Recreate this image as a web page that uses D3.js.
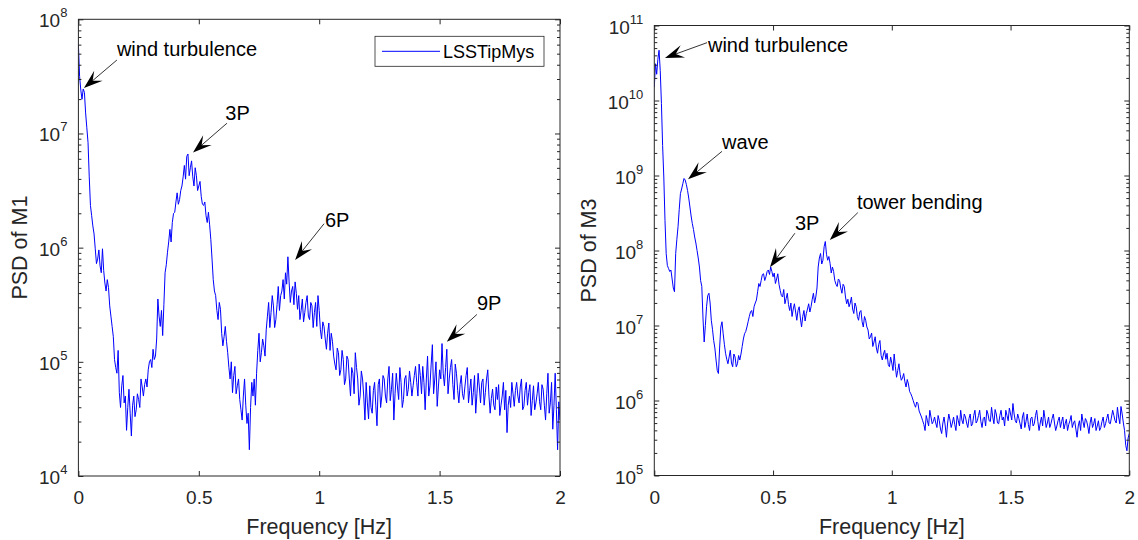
<!DOCTYPE html>
<html lang="en">
<head>
<meta charset="UTF-8">
<title>PSD of M1 and M3</title>
<style>
    body, html {
        margin: 0;
        padding: 0;
        background: #ffffff;
        font-family: 'Liberation Sans', Arial, sans-serif;
    }
    .axis line { stroke: #262626; stroke-width: 1px; }
    .axis path { display: none; }
    .axis text { fill: #262626; font-size: 19px; font-family: 'Liberation Sans', Arial, sans-serif; }
    .frame { fill: none; stroke: #262626; stroke-width: 1px; }
    .psd { fill: none; stroke: #0000ff; stroke-width: 1px; }
    .label { fill: #262626; font-size: 21.5px; }
    .note { fill: #000000; font-size: 20px; }
</style>
</head>
<body>
<svg width="1138" height="540"></svg>

<script src="https://d3js.org/d3.v7.min.js"></script>
<script>
    // frequency grid of the PSD estimates (Hz)
    const freqStep = 0.01;

    // log10 of PSD of M1 at 0, 0.01, ... 2 Hz
    const psdM1Exp = [
        7.78, 7.38, 7.39, 7.18, 6.92, 6.37, 6.19, 5.99, 5.90, 5.84,
        5.99, 5.69, 5.72, 5.49, 5.31, 5.02, 4.90, 4.73, 4.79, 4.64,
        4.40, 4.76, 4.35, 4.70, 4.58, 4.67, 4.85, 4.70, 4.85, 4.93,
        5.02, 5.11, 5.05, 5.55, 5.31, 5.23, 5.78, 5.96, 6.16, 6.22,
        6.31, 6.48, 6.42, 6.54, 6.72, 6.80, 6.63, 6.76, 6.54, 6.63,
        6.54, 6.45, 6.37, 6.28, 6.31, 6.07, 5.72, 5.58, 5.37, 5.46,
        5.14, 5.31, 5.08, 4.85, 4.73, 4.96, 4.79, 4.67, 4.49, 4.85,
        4.46, 4.23, 4.82, 4.85, 4.90, 5.25, 5.08, 5.14, 5.28, 5.52,
        5.43, 5.49, 5.37, 5.66, 5.58, 5.72, 5.78, 5.92, 5.52, 5.66,
        5.70, 5.46, 5.37, 5.55, 5.43, 5.58, 5.37, 5.49, 5.43, 5.31,
        5.45, 5.20, 5.31, 5.11, 5.34, 5.25, 5.05, 4.93, 5.08, 4.93,
        5.02, 4.85, 5.02, 4.70, 4.90, 5.08, 4.85, 4.70, 4.85, 4.49,
        4.64, 4.79, 4.55, 4.82, 4.44, 4.85, 4.70, 4.85, 4.64, 4.96,
        4.76, 4.49, 4.90, 4.67, 4.82, 4.67, 4.88, 4.76, 4.82, 4.79,
        4.96, 4.70, 4.88, 4.96, 4.58, 5.05, 4.79, 5.15, 4.85, 4.61,
        4.93, 5.16, 4.79, 5.11, 4.85, 5.02, 4.67, 4.90, 4.64, 4.88,
        4.67, 4.88, 4.64, 4.85, 4.73, 4.55, 4.90, 4.64, 4.85, 4.73,
        4.93, 4.55, 4.76, 4.58, 4.67, 4.53, 4.70, 4.58, 4.38, 4.70,
        4.82, 4.61, 4.82, 4.64, 4.85, 4.61, 4.82, 4.73, 4.53, 4.79,
        4.64, 4.82, 4.58, 4.76, 4.49, 4.90, 4.64, 4.41, 4.90, 4.23,
        4.49
    ];
    // log10 of PSD of M1 at 0.005, 0.015, ... 1.995 Hz
    const psdM1ExpHalf = [
        7.50, 7.30, 7.36, 7.05, 6.62, 6.28, 6.12, 5.86, 5.98, 5.78,
        5.80, 5.62, 5.65, 5.40, 5.22, 4.95, 5.10, 4.60, 4.88, 4.70,
        4.60, 4.55, 4.62, 4.52, 4.72, 4.60, 4.78, 4.80, 4.78, 5.00,
        4.95, 5.02, 5.20, 5.40, 5.45, 5.50, 5.85, 6.05, 6.05, 6.30,
        6.40, 6.38, 6.50, 6.62, 6.60, 6.82, 6.70, 6.62, 6.70, 6.50,
        6.58, 6.38, 6.40, 6.22, 6.20, 5.90, 5.62, 5.45, 5.52, 5.25,
        5.22, 5.18, 4.95, 5.00, 4.88, 4.72, 4.85, 4.58, 4.70, 4.62,
        4.55, 4.60, 4.70, 4.62, 5.10, 5.00, 5.20, 5.05, 5.40, 5.30,
        5.58, 5.30, 5.50, 5.45, 5.62, 5.55, 5.68, 5.70, 5.62, 5.50,
        5.60, 5.58, 5.45, 5.35, 5.52, 5.40, 5.52, 5.30, 5.52, 5.58,
        5.28, 5.35, 5.20, 5.25, 5.10, 5.18, 4.98, 5.12, 4.88, 5.10,
        4.80, 5.05, 4.85, 4.95, 4.72, 4.95, 4.62, 4.92, 4.70, 4.82,
        4.50, 4.60, 4.75, 4.62, 4.80, 4.60, 4.88, 4.70, 4.85, 4.66,
        4.90, 4.72, 4.78, 4.95, 4.60, 4.85, 4.70, 4.92, 4.70, 4.88,
        4.82, 4.98, 4.72, 4.82, 4.85, 4.70, 4.98, 4.72, 5.00, 4.78,
        4.85, 4.90, 4.95, 4.72, 4.95, 4.80, 4.98, 4.75, 4.80, 4.72,
        4.78, 4.95, 4.75, 4.62, 4.88, 4.72, 4.78, 4.82, 4.62, 4.85,
        4.70, 4.68, 4.62, 4.78, 4.80, 4.62, 4.82, 4.75, 4.62, 4.60,
        4.72, 4.75, 4.70, 4.78, 4.58, 4.75, 4.62, 4.80, 4.66, 4.58,
        4.72, 4.65, 4.80, 4.62, 4.72, 4.55, 4.82, 4.62, 4.58, 4.65
    ];

    // log10 of PSD of M3 at 0, 0.01, ... 2 Hz
    const psdM3Exp = [
        10.18, 10.35, 10.67, 9.96, 8.98, 7.96, 7.76, 7.74, 7.50, 7.96,
        8.32, 8.76, 8.89, 8.94, 8.80, 8.58, 8.36, 8.18, 8.00, 7.78,
        7.52, 6.78, 7.25, 7.43, 7.07, 6.80, 6.54, 6.36, 6.98, 6.89,
        6.63, 6.49, 6.67, 6.45, 6.58, 6.49, 6.54, 6.72, 6.89, 6.98,
        7.12, 7.20, 7.25, 7.34, 7.56, 7.60, 7.69, 7.65, 7.74, 7.78,
        7.65, 7.56, 7.69, 7.47, 7.38, 7.29, 7.43, 7.20, 7.12, 7.29,
        7.07, 7.25, 6.98, 7.20, 7.16, 7.29, 7.25, 7.43, 7.38, 7.78,
        7.96, 7.87, 8.12, 7.87, 7.83, 7.78, 7.60, 7.52, 7.60, 7.43,
        7.52, 7.29, 7.25, 7.38, 7.16, 7.25, 7.07, 7.20, 6.98, 7.07,
        6.94, 6.85, 6.72, 6.85, 6.63, 6.80, 6.54, 6.67, 6.63, 6.45,
        6.50, 6.62, 6.31, 6.49, 6.27, 6.36, 6.18, 6.22, 6.09, 6.00,
        5.91, 5.96, 5.82, 5.73, 5.60, 5.73, 5.87, 5.69, 5.78, 5.64,
        5.73, 5.56, 5.78, 5.51, 5.82, 5.64, 5.78, 5.60, 5.73, 5.87,
        5.69, 5.78, 5.64, 5.82, 5.69, 5.87, 5.73, 5.87, 5.64, 5.78,
        5.87, 5.73, 5.91, 5.69, 5.82, 5.69, 5.87, 5.78, 5.87, 5.73,
        5.82, 5.96, 5.73, 5.82, 5.69, 5.78, 5.64, 5.82, 5.60, 5.78,
        5.69, 5.87, 5.60, 5.78, 5.87, 5.64, 5.78, 5.69, 5.82, 5.60,
        5.73, 5.64, 5.78, 5.69, 5.60, 5.73, 5.64, 5.73, 5.51, 5.73,
        5.82, 5.64, 5.73, 5.56, 5.78, 5.69, 5.60, 5.73, 5.64, 5.78,
        5.69, 5.82, 5.69, 5.87, 5.73, 5.91, 5.69, 5.82, 5.60, 5.33,
        5.56
    ];
    // log10 of PSD of M3 at 0.005, 0.015, ... 1.995 Hz
    const psdM3ExpHalf = [
        10.49, 10.55, 10.40, 9.40, 8.40, 7.80, 7.72, 7.62, 7.45, 8.15,
        8.55, 8.82, 8.96, 8.88, 8.70, 8.46, 8.28, 8.10, 7.90, 7.60,
        7.10, 7.00, 7.40, 7.30, 6.95, 6.70, 6.40, 6.70, 7.05, 6.75,
        6.55, 6.58, 6.50, 6.62, 6.45, 6.60, 6.62, 6.82, 6.92, 7.05,
        7.18, 7.12, 7.30, 7.45, 7.52, 7.68, 7.60, 7.72, 7.68, 7.72,
        7.70, 7.62, 7.55, 7.40, 7.48, 7.36, 7.28, 7.30, 7.22, 7.18,
        7.20, 7.10, 7.12, 7.06, 7.22, 7.18, 7.35, 7.30, 7.50, 7.90,
        7.82, 8.05, 7.95, 7.92, 7.70, 7.72, 7.55, 7.62, 7.50, 7.55,
        7.38, 7.35, 7.30, 7.22, 7.30, 7.12, 7.18, 7.05, 7.12, 6.98,
        6.82, 6.90, 6.78, 6.70, 6.75, 6.60, 6.62, 6.55, 6.48, 6.58,
        6.40, 6.45, 6.40, 6.35, 6.30, 6.25, 6.28, 6.12, 6.05, 5.95,
        5.98, 5.86, 5.78, 5.68, 5.80, 5.66, 5.78, 5.72, 5.70, 5.80,
        5.62, 5.70, 5.66, 5.70, 5.74, 5.70, 5.68, 5.80, 5.66, 5.74,
        5.82, 5.70, 5.76, 5.66, 5.80, 5.70, 5.80, 5.72, 5.76, 5.66,
        5.82, 5.72, 5.78, 5.88, 5.70, 5.80, 5.74, 5.66, 5.80, 5.90,
        5.74, 5.82, 5.70, 5.76, 5.62, 5.84, 5.72, 5.68, 5.76, 5.66,
        5.80, 5.72, 5.70, 5.66, 5.76, 5.70, 5.64, 5.76, 5.70, 5.66,
        5.78, 5.72, 5.62, 5.75, 5.68, 5.80, 5.70, 5.62, 5.66, 5.60,
        5.72, 5.76, 5.66, 5.70, 5.64, 5.76, 5.66, 5.60, 5.72, 5.64,
        5.76, 5.70, 5.78, 5.80, 5.70, 5.78, 5.92, 5.70, 5.40, 5.50
    ];

    const xTicks = [0, 0.5, 1, 1.5, 2];

    // annotations: label position, arrow tail and arrow head (Hz, PSD)
    const notesM1 = [
        {text: "wind turbulence", tf: 0.16, tv: 5.5e7, f0: 0.16, v0: 4.4e7, f1: 0.023, v1: 2.5e7},
        {text: "3P", tf: 0.61, tv: 1.5e7, f0: 0.617, v0: 1.23e7, f1: 0.476, v1: 6.8e6},
        {text: "6P", tf: 1.024, tv: 1.74e6, f0: 1.02, v0: 1.62e6, f1: 0.90, v1: 7.8e5},
        {text: "9P", tf: 1.655, tv: 3.3e5, f0: 1.655, v0: 2.6e5, f1: 1.53, v1: 1.5e5}
    ];
    const notesM3 = [
        {text: "wind turbulence", tf: 0.226, tv: 5.5e10, f0: 0.222, v0: 5.9e10, f1: 0.045, v1: 3.7e10},
        {text: "wave", tf: 0.285, tv: 2.8e9, f0: 0.285, v0: 2.1e9, f1: 0.142, v1: 8.9e8},
        {text: "3P", tf: 0.592, tv: 2.3e8, f0: 0.592, v0: 1.7e8, f1: 0.487, v1: 6.0e7},
        {text: "tower bending", tf: 0.853, tv: 4.5e8, f0: 0.857, v0: 3.2e8, f1: 0.739, v1: 1.38e8}
    ];

    const svg = d3.select("svg");
    svg.append("rect").attr("width", 1138).attr("height", 540).attr("fill", "#ffffff");

    const panels = [
        {id: "m1", exp: psdM1Exp, half: psdM1ExpHalf, left: 78.4, right: 560, top: 19.3, bottom: 476,
         yDomain: [1e4, 1e8], ylabel: "PSD of M1", labelX: 19, notes: notesM1, legend: "LSSTipMys"},
        {id: "m3", exp: psdM3Exp, half: psdM3ExpHalf, left: 654.3, right: 1129.3, top: 25.5, bottom: 475.5,
         yDomain: [1e5, 1e11], ylabel: "PSD of M3", labelX: 588, notes: notesM3, legend: null}
    ];

    panels.forEach(p => {
        const w = p.right - p.left;
        const h = p.bottom - p.top;
        const x = d3.scaleLinear().domain([0, 2]).range([0, w]);
        const y = d3.scaleLog().domain(p.yDomain).range([h, 0]);

        const g = svg.append("g").attr("transform", `translate(${p.left},${p.top})`);

        const lo = Math.round(Math.log10(p.yDomain[0]));
        const hi = Math.round(Math.log10(p.yDomain[1]));
        const decades = d3.range(lo, hi + 1).map(e => Math.pow(10, e));
        const minors = [];
        d3.range(lo, hi).forEach(e => {
            for (let k = 2; k <= 9; k++) minors.push(k * Math.pow(10, e));
        });

        // data line: grid points and half-step points merged by frequency
        g.append("clipPath").attr("id", "clip-" + p.id)
            .append("rect").attr("width", w).attr("height", h);

        const data = p.exp.map((e, i) => ({f: i * freqStep, v: Math.pow(10, e)}))
            .concat(p.half.map((e, i) => ({f: (i + 0.5) * freqStep, v: Math.pow(10, e)})))
            .sort((a, b) => a.f - b.f);
        g.append("path")
            .datum(data)
            .attr("class", "psd")
            .attr("clip-path", `url(#clip-${p.id})`)
            .attr("d", d3.line().x(d => x(d.f)).y(d => y(d.v)));

        // axes, ticks pointing inward
        g.append("g").attr("class", "axis")
            .attr("transform", `translate(0,${h})`)
            .call(d3.axisBottom(x).tickValues(xTicks).tickSizeInner(-5).tickSizeOuter(0)
                .tickPadding(15).tickFormat(d3.format("")));
        g.append("g").attr("class", "axis")
            .call(d3.axisTop(x).tickValues(xTicks).tickSizeInner(-5).tickSizeOuter(0).tickFormat(""));

        g.append("g").attr("class", "axis")
            .call(d3.axisLeft(y).tickValues(decades).tickSizeInner(-5).tickSizeOuter(0).tickFormat(""));
        g.append("g").attr("class", "axis")
            .call(d3.axisLeft(y).tickValues(minors).tickSizeInner(-3).tickSizeOuter(0).tickFormat(""));
        g.append("g").attr("class", "axis")
            .attr("transform", `translate(${w},0)`)
            .call(d3.axisRight(y).tickValues(decades).tickSizeInner(-5).tickSizeOuter(0).tickFormat(""));
        g.append("g").attr("class", "axis")
            .attr("transform", `translate(${w},0)`)
            .call(d3.axisRight(y).tickValues(minors).tickSizeInner(-3).tickSizeOuter(0).tickFormat(""));

        // 10^n labels
        const yl = g.append("g").selectAll("text")
            .data(decades)
            .join("text")
            .attr("x", -11)
            .attr("y", d => y(d) + 8)
            .attr("text-anchor", "end")
            .attr("fill", "#262626");
        yl.append("tspan").attr("font-size", 19).text("10");
        yl.append("tspan").attr("font-size", 13).attr("dy", -10)
            .text(d => Math.round(Math.log10(d)));

        g.append("rect").attr("class", "frame").attr("width", w).attr("height", h);

        // axis titles
        svg.append("text").attr("class", "label")
            .attr("x", p.left + w / 2).attr("y", 534)
            .attr("text-anchor", "middle")
            .text("Frequency [Hz]");
        svg.append("text").attr("class", "label")
            .attr("transform", `translate(${p.labelX},${p.top + h / 2}) rotate(-90)`)
            .attr("text-anchor", "middle")
            .attr("dy", "0.35em")
            .text(p.ylabel);

        // annotations
        p.notes.forEach(n => {
            g.append("text").attr("class", "note")
                .attr("x", x(n.tf)).attr("y", y(n.tv))
                .attr("dy", "0.35em")
                .text(n.text);
            const x0 = x(n.f0), y0 = y(n.v0), x1 = x(n.f1), y1 = y(n.v1);
            const len = Math.hypot(x1 - x0, y1 - y0);
            const ux = (x0 - x1) / len, uy = (y0 - y1) / len;
            const nx = -uy, ny = ux;
            const L = 19, W = 6.5;
            g.append("line")
                .attr("x1", x0).attr("y1", y0)
                .attr("x2", x1 + ux * 10).attr("y2", y1 + uy * 10)
                .attr("stroke", "#000").attr("stroke-width", 0.8);
            const pts = [
                [x1, y1],
                [x1 + ux * L + nx * W, y1 + uy * L + ny * W],
                [x1 + ux * L * 0.6, y1 + uy * L * 0.6],
                [x1 + ux * L - nx * W, y1 + uy * L - ny * W]
            ];
            g.append("path")
                .attr("d", "M" + pts.map(q => q.join(",")).join("L") + "Z")
                .attr("fill", "#000");
        });

        // legend
        if (p.legend) {
            const lg = g.append("g").attr("transform", `translate(${w - 185},${17})`);
            lg.append("rect").attr("width", 169).attr("height", 30)
                .attr("fill", "#fff").attr("stroke", "#262626").attr("stroke-width", 0.8);
            lg.append("line").attr("x1", 7).attr("x2", 65).attr("y1", 15).attr("y2", 15)
                .attr("stroke", "#0000ff").attr("stroke-width", 1);
            lg.append("text").attr("x", 68).attr("y", 15).attr("dy", "0.35em")
                .attr("font-size", 18).attr("fill", "#000").text(p.legend);
        }
    });
</script>
</body>
</html>
